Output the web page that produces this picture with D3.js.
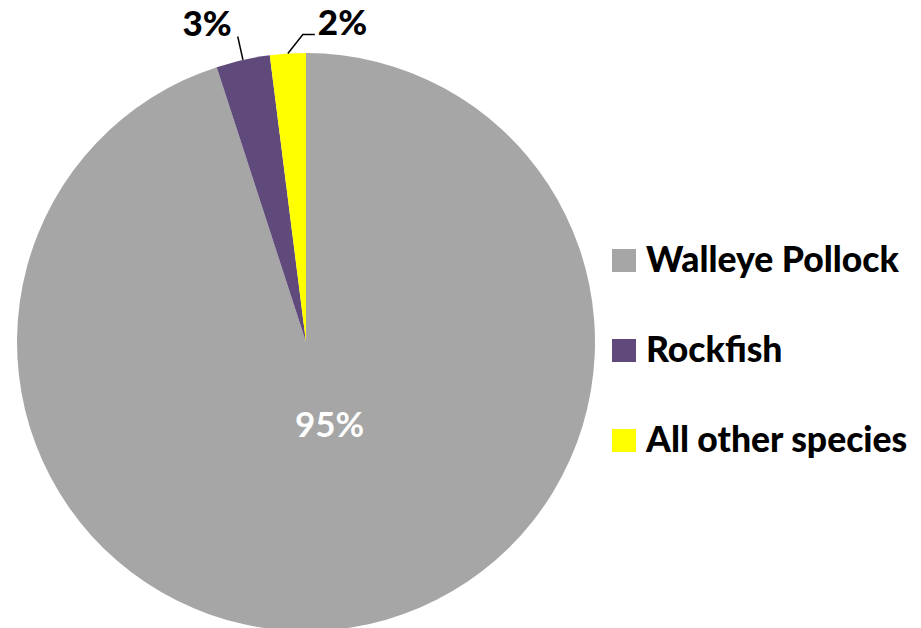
<!DOCTYPE html>
<html><head><meta charset="utf-8">
<script src="https://cdn.jsdelivr.net/npm/d3@7/dist/d3.min.js"></script>
<style>body{margin:0;background:#fff}svg{display:block}</style>
</head><body>
<svg id="c" width="921" height="628"></svg>
<script>
const categories = ["Walleye Pollock", "Rockfish", "All other species"];
const values = [95, 3, 2];
const colors = ["#A6A6A6", "#604A7B", "#FFFF00"];
const labels = ["95%", "3%", "2%"];

const svg = d3.select("#c");
const cx = 306, cy = 342, R = 289;
const font = "Lato, 'Open Sans', sans-serif";

const pie = d3.pie().sort(null).value(d => d)(values);
const arc = d3.arc().innerRadius(0).outerRadius(R);
const g = svg.append("g").attr("transform", `translate(${cx},${cy})`);

g.selectAll("path.slice").data(pie).enter().append("path")
  .attr("class", "slice")
  .attr("d", arc)
  .attr("fill", (d, i) => colors[i]);

// inside label
const inArc = d3.arc().innerRadius(R * 0.3).outerRadius(R * 0.3);
const c0 = inArc.centroid(pie[0]);
g.append("text")
  .attr("x", c0[0] + 10).attr("y", c0[1] + 9)
  .attr("text-anchor", "middle")
  .attr("font-family", font).attr("font-weight", "bold")
  .attr("font-size", 35).attr("fill", "#fff")
  .text(labels[0]);

function pt(a, r) { return [r * Math.sin(a), -r * Math.cos(a)]; }
const mid = d => (d.startAngle + d.endAngle) / 2;

// Rockfish
{
  const d = pie[1], a = mid(d);
  const p0 = pt(a, R), p1 = pt(a, R + 24);
  g.append("path").attr("d", d3.line()([p0, p1]))
    .attr("stroke", "#000").attr("stroke-width", 1.5).attr("fill", "none");
  g.append("text")
    .attr("x", p1[0] - 6).attr("y", p1[1] - 1)
    .attr("text-anchor", "end")
    .attr("font-family", font).attr("font-weight", 900)
    .attr("font-size", 35).attr("fill", "#000")
    .text(labels[1]);
}
// All other species
{
  const d = pie[2], a = mid(d);
  const p0 = pt(a, R);
  const p1 = [p0[0] + 15, p0[1] - 19];
  const p2 = [p1[0] + 12, p1[1]];
  g.append("path").attr("d", d3.line()([p0, p1, p2]))
    .attr("stroke", "#000").attr("stroke-width", 1.5).attr("fill", "none");
  g.append("text")
    .attr("x", p2[0] + 3).attr("y", p2[1])
    .attr("text-anchor", "start")
    .attr("font-family", font).attr("font-weight", 900)
    .attr("font-size", 35).attr("fill", "#000")
    .text(labels[2]);
}

// legend
const leg = svg.append("g").attr("transform", "translate(612,249)");
const item = leg.selectAll("g").data(categories).enter().append("g")
  .attr("transform", (d, i) => `translate(0,${i * 90})`);
item.append("rect").attr("width", 24).attr("height", 23)
  .attr("fill", (d, i) => colors[i]);
item.append("text")
  .attr("x", 34).attr("y", 22.7)
  .attr("font-family", font).attr("font-weight", 900)
  .attr("font-size", 35.5).attr("fill", "#000")
  .text(d => d);
</script>
</body></html>
